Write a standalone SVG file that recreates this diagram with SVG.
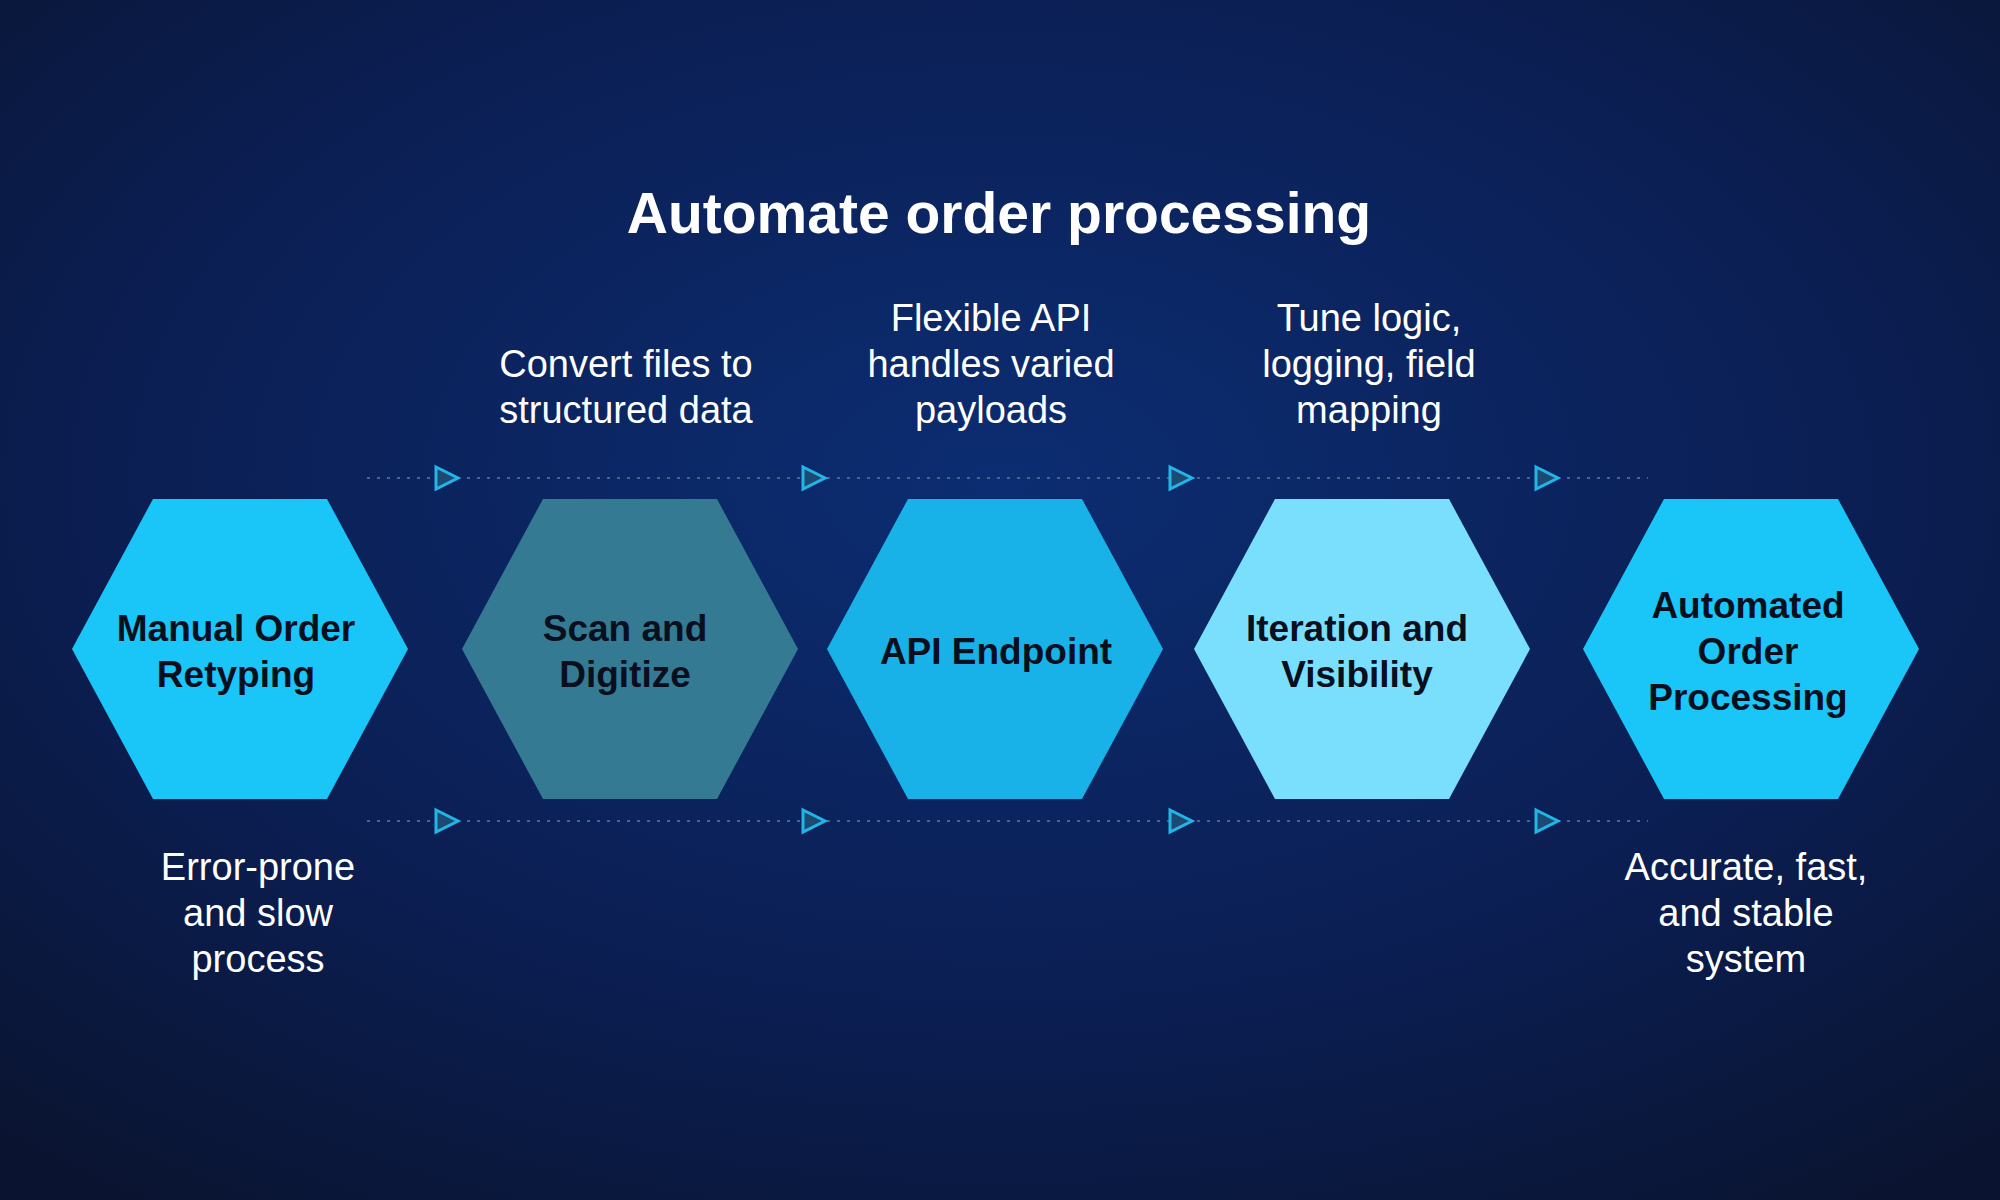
<svg xmlns="http://www.w3.org/2000/svg" width="2000" height="1200" viewBox="0 0 2000 1200">
<defs>
<radialGradient id="bg" cx="50%" cy="40%" r="75%">
<stop offset="0" stop-color="#0c2d72"/>
<stop offset="0.6" stop-color="#0b1e52"/>
<stop offset="1" stop-color="#0a1430"/>
</radialGradient>
<polygon id="hex" points="-168,0 -87,-150 87,-150 168,0 87,150 -87,150"/>
<polygon id="tri" points="-10,-11 12,0 -10,11"/>
</defs>
<style>
.t{font-family:"Liberation Sans",Arial,sans-serif;fill:#fff;text-anchor:middle}
.title{font-size:57px;font-weight:bold}
.ann{font-size:38px}
.lab{font-family:"Liberation Sans",Arial,sans-serif;font-size:37px;font-weight:bold;fill:#0a0f1e;text-anchor:middle}
.dot{stroke:#3f6a8a;stroke-width:2;stroke-dasharray:3 7;fill:none}
.arr{fill:#1d4a72;stroke:#22b5e6;stroke-width:3}
</style>
<rect width="2000" height="1200" fill="url(#bg)"/>
<text class="t title" x="999" y="233">Automate order processing</text>
<g id="connectors">
<line class="dot" x1="367" y1="478" x2="1648" y2="478"/>
<line class="dot" x1="367" y1="821" x2="1648" y2="821"/>
<use href="#tri" class="arr" x="446" y="478"/><use href="#tri" class="arr" x="813" y="478"/><use href="#tri" class="arr" x="1180" y="478"/><use href="#tri" class="arr" x="1546" y="478"/>
<use href="#tri" class="arr" x="446" y="821"/><use href="#tri" class="arr" x="813" y="821"/><use href="#tri" class="arr" x="1180" y="821"/><use href="#tri" class="arr" x="1546" y="821"/>
</g>
<g id="n1"><use href="#hex" x="240" y="649" fill="#19c6f7"/>
<text class="lab"><tspan x="236" y="641">Manual Order</tspan><tspan x="236" y="687">Retyping</tspan></text>
<text class="t ann"><tspan x="258" y="880">Error-prone</tspan><tspan x="258" y="926">and slow</tspan><tspan x="258" y="972">process</tspan></text></g>
<g id="n2"><use href="#hex" x="630" y="649" fill="#347a93"/>
<text class="lab"><tspan x="625" y="641">Scan and</tspan><tspan x="625" y="687">Digitize</tspan></text>
<text class="t ann"><tspan x="626" y="377">Convert files to</tspan><tspan x="626" y="423">structured data</tspan></text></g>
<g id="n3"><use href="#hex" x="995" y="649" fill="#18b2e8"/>
<text class="lab"><tspan x="996" y="664">API Endpoint</tspan></text>
<text class="t ann"><tspan x="991" y="331">Flexible API</tspan><tspan x="991" y="377">handles varied</tspan><tspan x="991" y="423">payloads</tspan></text></g>
<g id="n4"><use href="#hex" x="1362" y="649" fill="#7adffd"/>
<text class="lab"><tspan x="1357" y="641">Iteration and</tspan><tspan x="1357" y="687">Visibility</tspan></text>
<text class="t ann"><tspan x="1369" y="331">Tune logic,</tspan><tspan x="1369" y="377">logging, field</tspan><tspan x="1369" y="423">mapping</tspan></text></g>
<g id="n5"><use href="#hex" x="1751" y="649" fill="#19c6f7"/>
<text class="lab"><tspan x="1748" y="618">Automated</tspan><tspan x="1748" y="664">Order</tspan><tspan x="1748" y="710">Processing</tspan></text>
<text class="t ann"><tspan x="1746" y="880">Accurate, fast,</tspan><tspan x="1746" y="926">and stable</tspan><tspan x="1746" y="972">system</tspan></text></g>
</svg>
